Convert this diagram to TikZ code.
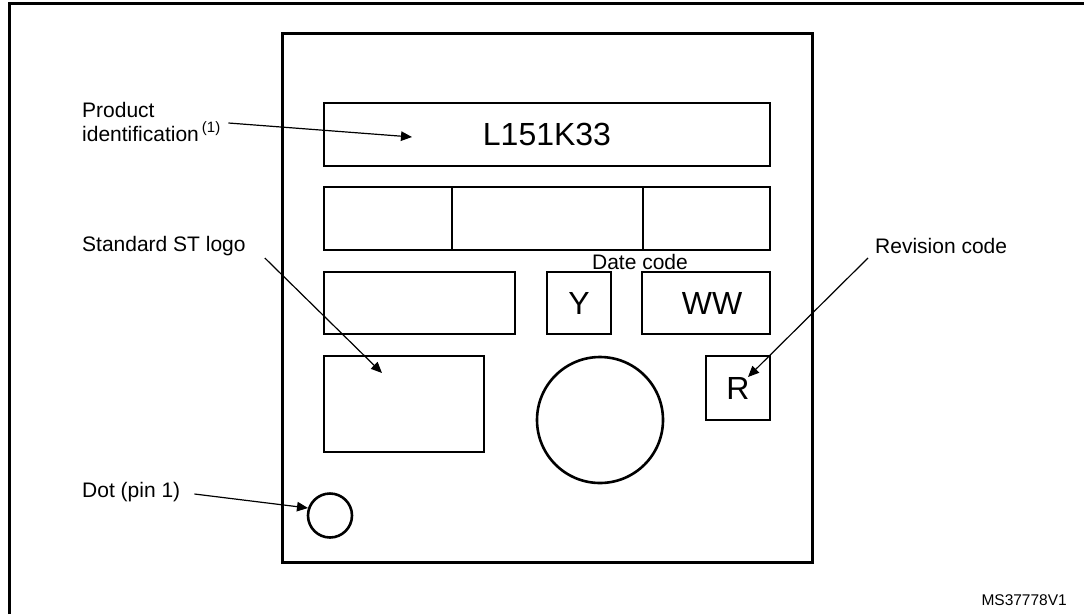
\documentclass[tikz,border=0pt]{standalone}
\usepackage{fontspec}
\setmainfont{Liberation Sans}
\usetikzlibrary{arrows.meta}
\begin{document}
\begin{tikzpicture}[x=1pt,y=-1pt,
	field/.style={draw,line width=2.6pt,inner sep=0,font=\fontsize{32}{34}\selectfont},
	lbl/.style={anchor=west,inner sep=0,align=left,font=\fontsize{21}{23.5}\selectfont},
	pointer/.style={-{Triangle[length=11pt,width=9.5pt]},line width=1.2pt}]
	\useasboundingbox (0,0) rectangle (1084,614);
	\draw[line width=3pt] (9,614) -- (9,3) -- (1084,3);
	\node[draw,line width=3pt,minimum width=530,minimum height=529] (pkg) at (547,297.5) {};
	\node[field,minimum width=446,minimum height=63] (pid) at (547,134.5) {L151K33};
	\node[field,minimum width=128,minimum height=63] (r2a) at (388,218.5) {};
	\node[field,minimum width=191,minimum height=63] (r2b) at (547.5,218.5) {};
	\node[field,minimum width=127,minimum height=63] (r2c) at (706.5,218.5) {};
	\node[field,minimum width=191,minimum height=62] (r3a) at (419.5,303) {};
	\node[field,minimum width=64,minimum height=62] (year) at (579,303) {Y};
	\node[field,minimum width=128,minimum height=62] (week) at (706,303) {\hspace{12pt}WW};
	\node[inner sep=0,font=\fontsize{21}{23}\selectfont] (datecode) at (640,262) {Date code};
	\node[field,minimum width=160,minimum height=96] (logo) at (404,404) {};
	\node[field,circle,minimum size=126] (mark) at (600,420) {};
	\node[field,minimum width=64,minimum height=64] (rev) at (738,388) {R};
	\node[field,circle,minimum size=44] (pin) at (330,515.5) {};
	\node[lbl] (lblpid) at (82,122) {Product\\identification\hspace{3pt}\raisebox{9pt}{\fontsize{15}{15}\selectfont(1)}};
	\node[lbl] (lbllogo) at (82,246) {Standard ST logo};
	\node[lbl] (lblrev) at (875,246) {Revision code};
	\node[lbl] (lbldot) at (82,492) {Dot (pin 1)};
	\node[anchor=east,inner sep=0,font=\fontsize{15.5}{17}\selectfont] (ref) at (1067,600) {MS37778V1};
	\coordinate (tippid) at (412,137);
	\coordinate (tiplogo) at (382,373);
	\coordinate (tiprev) at (748,377);
	\coordinate (tipdot) at (308,508);
	\draw[pointer] ([xshift=8pt,yshift=-1pt]lblpid.east) -- (tippid);
	\draw[pointer] ([xshift=19pt,yshift=-12pt]lbllogo.east) -- (tiplogo);
	\draw[pointer] ([xshift=-7pt,yshift=-12pt]lblrev.west) -- (tiprev);
	\draw[pointer] ([xshift=14pt,yshift=-2pt]lbldot.east) -- (tipdot);
\end{tikzpicture}
\end{document}
